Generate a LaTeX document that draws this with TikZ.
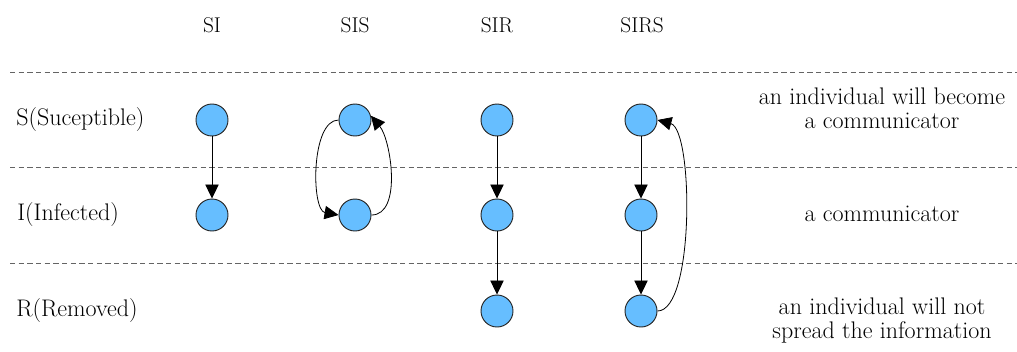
\documentclass[tikz,border=0pt]{standalone}
\usetikzlibrary{arrows.meta}
\definecolor{statefill}{RGB}{102,190,255}
\definecolor{rulegray}{RGB}{100,100,100}
\begin{document}
\begin{tikzpicture}[x=0.75pt,y=-0.75pt,
  state/.style={circle,draw=black!85,line width=0.7pt,fill=statefill,minimum size=24pt,inner sep=0pt},
  head/.style={font=\fontsize{16}{19}\selectfont,inner sep=0pt},
  lbl/.style={font=\fontsize{18}{19}\selectfont,inner sep=0pt},
  desc/.style={font=\fontsize{18}{18}\selectfont,inner sep=0pt,align=center},
  flow/.style={-{Triangle[length=10.5pt,width=10pt]},line width=0.6pt},
  sep/.style={rulegray,dashed,dash pattern=on 4pt off 2.5pt,line width=0.7pt}]
\useasboundingbox (0,0) rectangle (1017,351);

% row separators
\draw[sep] (10,72) -- (1017,72);
\draw[sep] (10,167) -- (1017,167);
\draw[sep] (10,263) -- (1017,263);

% model headers
\node[head] (hsi)   at (212,25) {SI};
\node[head] (hsis)  at (355,25) {SIS};
\node[head] (hsir)  at (497,25) {SIR};
\node[head] (hsirs) at (642,25) {SIRS};

% compartment names
\node[lbl,anchor=west] (ls) at (16,120) {S(Suceptible)};
\node[lbl,anchor=west] (li) at (17,215) {I(Infected)};
\node[lbl,anchor=west] (lr) at (16,311) {R(Removed)};

% descriptions
\node[desc] (ds) at (882,108) {an individual will become\\a communicator};
\node[desc] (di) at (882,214) {a communicator};
\node[desc] (dr) at (882,321) {an individual will not\\spread the information};

% SI
\node[state] (s1) at (212,120) {};
\node[state] (i1) at (212,215) {};
\draw[flow] (s1) -- (i1);

% SIS
\node[state] (s2) at (355,120) {};
\node[state] (i2) at (355,215) {};
\draw[flow] (s2.west) to[out=180,in=170,looseness=0.75] (i2.west);
\draw[flow] (i2.east) to[out=0,in=-50,looseness=0.8] (s2.15);

% SIR
\node[state] (s3) at (497,120) {};
\node[state] (i3) at (497,215) {};
\node[state] (r3) at (497,311) {};
\draw[flow] (s3) -- (i3);
\draw[flow] (i3) -- (r3);

% SIRS
\node[state] (s4) at (641,120) {};
\node[state] (i4) at (641,215) {};
\node[state] (r4) at (641,311) {};
\draw[flow] (s4) -- (i4);
\draw[flow] (i4) -- (r4);
\draw[flow] (r4.east) to[out=0,in=-15,looseness=0.5] (s4.east);
\end{tikzpicture}
\end{document}
